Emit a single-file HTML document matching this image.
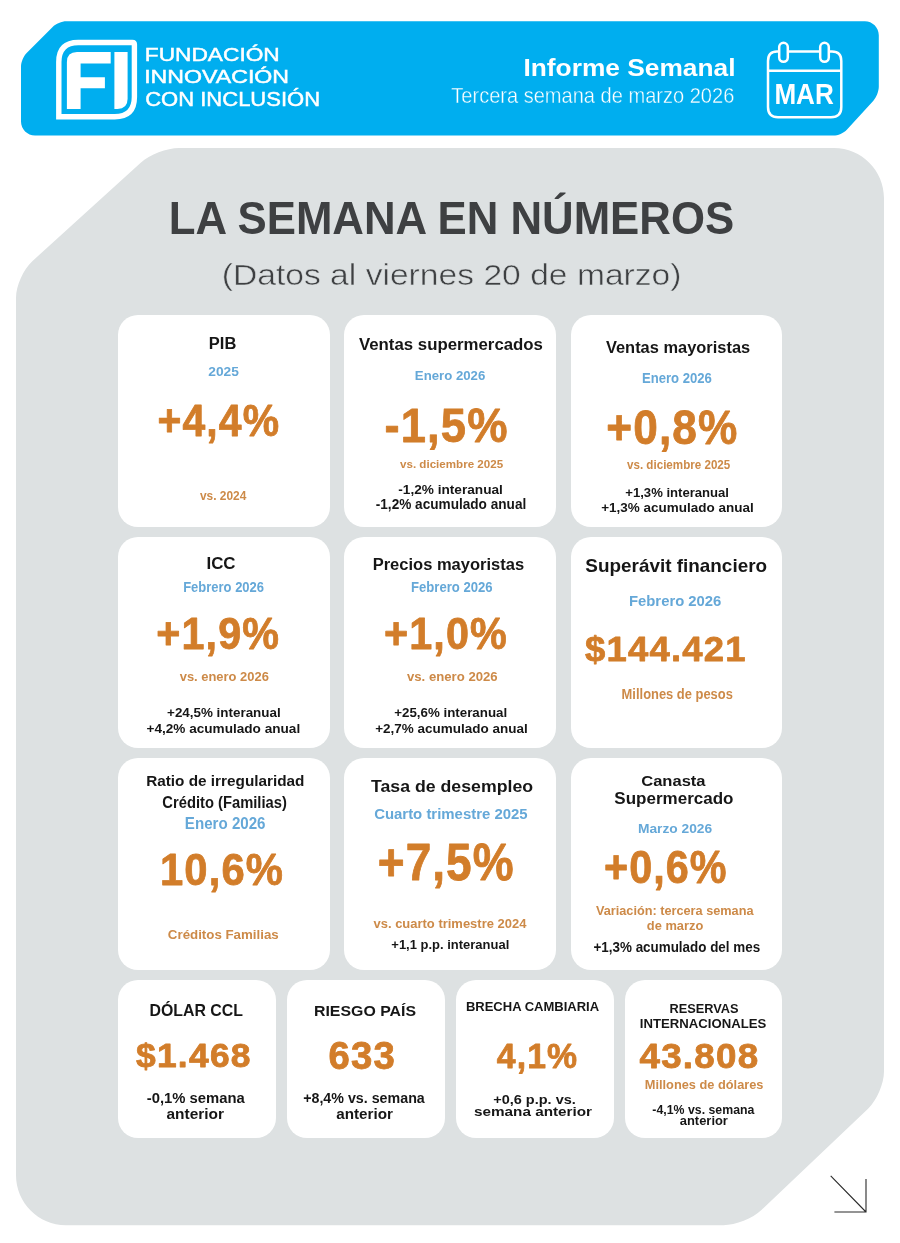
<!DOCTYPE html>
<html><head><meta charset="utf-8"><style>
html,body{margin:0;padding:0;background:#fff;}
body{width:900px;height:1243px;position:relative;overflow:hidden;font-family:"Liberation Sans",sans-serif;}
svg{position:absolute;left:0;top:0;will-change:transform;}
.card{position:absolute;background:#fff;border-radius:20px;}
</style></head><body>
<svg width="900" height="1243" viewBox="0 0 900 1243" style="z-index:0">
<path d="M21.00 66.60 C21.00 62.20 23.55 56.05 26.66 52.94 L52.64 26.96 C55.75 23.85 61.90 21.30 66.30 21.30 L864.80 21.30 C872.50 21.30 878.80 27.60 878.80 35.30 L878.80 86.80 C878.80 91.20 876.37 97.45 873.39 100.70 L846.81 129.70 C843.83 132.95 837.80 135.60 833.40 135.60 L35.00 135.60 C27.30 135.60 21.00 129.30 21.00 121.60 Z" fill="#00aeef"/>
<path d="M16.00 298.00 C16.00 285.90 23.33 269.34 32.28 261.21 L140.72 162.69 C149.67 154.56 166.90 147.90 179.00 147.90 L834.00 147.90 C861.50 147.90 884.00 170.40 884.00 197.90 L884.00 1071.50 C884.00 1083.60 876.83 1100.32 868.06 1108.66 L761.44 1210.04 C752.67 1218.38 735.60 1225.20 723.50 1225.20 L66.00 1225.20 C38.50 1225.20 16.00 1202.70 16.00 1175.20 Z" fill="#dde1e2"/>
</svg>
<div class="card" style="left:118.0px;top:315.0px;width:211.5px;height:211.5px"></div><div class="card" style="left:344.3px;top:315.0px;width:211.4px;height:211.5px"></div><div class="card" style="left:570.8px;top:315.0px;width:211.5px;height:211.5px"></div><div class="card" style="left:118.0px;top:536.5px;width:211.5px;height:211.5px"></div><div class="card" style="left:344.3px;top:536.5px;width:211.4px;height:211.5px"></div><div class="card" style="left:570.8px;top:536.5px;width:211.5px;height:211.5px"></div><div class="card" style="left:118.0px;top:758.0px;width:211.5px;height:211.5px"></div><div class="card" style="left:344.3px;top:758.0px;width:211.4px;height:211.5px"></div><div class="card" style="left:570.8px;top:758.0px;width:211.5px;height:211.5px"></div><div class="card" style="left:118.0px;top:979.7px;width:158.3px;height:158.3px"></div><div class="card" style="left:287.0px;top:979.7px;width:158.3px;height:158.3px"></div><div class="card" style="left:455.6px;top:979.7px;width:158.4px;height:158.3px"></div><div class="card" style="left:624.7px;top:979.7px;width:157.6px;height:158.3px"></div>
<svg width="900" height="1243" viewBox="0 0 900 1243" style="z-index:2" font-family="Liberation Sans, sans-serif">

<g fill="none" stroke="#fff" stroke-width="5.4">
  <path d="M58.8 116.7 V62 Q58.8 42.45 78.3 42.45 H132.4 Q134.4 42.45 134.4 44.45 V97 Q134.4 116.7 114.7 116.7 Z"/>
</g>
<g fill="#fff">
  <path d="M66.9 108.9 V62 Q66.9 51.9 77 51.9 H110.7 V63.5 H80.6 V77.2 H104.9 V88.3 H80.6 V108.9 Z"/>
  <path d="M114.4 51.9 H127.6 V98.8 Q127.6 108.9 117.5 108.9 H114.4 Z"/>
</g>


<g fill="none" stroke="#fff" stroke-width="2.5">
  <path d="M779.2 51.5 H777 Q768 51.5 768 61 V107 Q768 117.2 778 117.2 H831 Q841.3 117.2 841.3 107 V61 Q841.3 51.5 832 51.5 H828.8"/>
  <path d="M787.8 51.5 H820.2"/>
  <path d="M768 70.7 H841.3"/>
  <rect x="779.2" y="42.8" width="8.6" height="19" rx="4.3"/>
  <rect x="820.2" y="42.8" width="8.6" height="19" rx="4.3"/>
</g>

<g stroke="#2a2a2a" stroke-width="1.1" fill="none"><path d="M830.7 1175.9 L866 1212 M866 1179 V1212 H834.4"/></g>
<text transform="translate(144.757 61.100) scale(1.21507 1)" font-size="18.703" font-weight="normal" fill="#ffffff" stroke="#ffffff" stroke-width="0.45">FUNDACIÓN</text>
<text transform="translate(144.168 82.980) scale(1.31189 1)" font-size="17.648" font-weight="normal" fill="#ffffff" stroke="#ffffff" stroke-width="0.45">INNOVACIÓN</text>
<text transform="translate(145.182 105.560) scale(1.12487 1)" font-size="19.583" font-weight="normal" fill="#ffffff" stroke="#ffffff" stroke-width="0.45">CON INCLUSIÓN</text>
<text transform="translate(523.437 76.080) scale(1.06315 1)" font-size="24.758" font-weight="bold" fill="#ffffff" >Informe Semanal</text>
<text transform="translate(451.289 103.100) scale(0.91856 1)" font-size="21.836" font-weight="normal" fill="#ffffff" stroke="#00aeef" stroke-width="0.4">Tercera semana de marzo 2026</text>
<text transform="translate(774.392 104.000) scale(0.89388 1)" font-size="29.193" font-weight="bold" fill="#ffffff" >MAR</text>
<text transform="translate(168.742 234.000) scale(0.96124 1)" font-size="45.511" font-weight="bold" fill="#3e4042" >LA SEMANA EN NÚMEROS</text>
<text transform="translate(221.723 285.000) scale(1.12654 1)" font-size="29.867" font-weight="normal" fill="#3e4042" stroke="#dde1e2" stroke-width="0.5">(Datos al viernes 20 de marzo)</text>
<text transform="translate(208.869 348.500) scale(1.04510 1)" font-size="15.787" font-weight="bold" fill="#161616" >PIB</text>
<text transform="translate(208.269 375.800) scale(1.07723 1)" font-size="12.800" font-weight="bold" fill="#65a8d8" >2025</text>
<text transform="translate(157.411 435.680) scale(0.94007 1)" font-size="43.503" font-weight="bold" fill="#d27d2a" style="letter-spacing:1.2px" stroke="#d27d2a" stroke-width="0.8" stroke-linejoin="round">+4,4%</text>
<text transform="translate(199.920 500.000) scale(0.96492 1)" font-size="12.376" font-weight="bold" fill="#cd8a48" >vs. 2024</text>
<text transform="translate(358.980 349.980) scale(0.97516 1)" font-size="17.235" font-weight="bold" fill="#161616" >Ventas supermercados</text>
<text transform="translate(414.821 380.100) scale(1.03243 1)" font-size="12.800" font-weight="bold" fill="#65a8d8" >Enero 2026</text>
<text transform="translate(384.528 442.340) scale(0.95109 1)" font-size="47.648" font-weight="bold" fill="#d27d2a" style="letter-spacing:1.2px" stroke="#d27d2a" stroke-width="0.8" stroke-linejoin="round">-1,5%</text>
<text transform="translate(400.040 468.000) scale(0.98880 1)" font-size="11.729" font-weight="bold" fill="#cd8a48" >vs. diciembre 2025</text>
<text transform="translate(398.315 494.360) scale(1.08174 1)" font-size="12.617" font-weight="bold" fill="#161616" >-1,2% interanual</text>
<text transform="translate(375.774 509.300) scale(0.95213 1)" font-size="14.306" font-weight="bold" fill="#161616" >-1,2% acumulado anual</text>
<text transform="translate(605.900 352.700) scale(1.02280 1)" font-size="16.071" font-weight="bold" fill="#161616" >Ventas mayoristas</text>
<text transform="translate(641.981 383.300) scale(0.93091 1)" font-size="14.080" font-weight="bold" fill="#65a8d8" >Enero 2026</text>
<text transform="translate(606.320 443.820) scale(0.91240 1)" font-size="48.460" font-weight="bold" fill="#d27d2a" style="letter-spacing:1.2px" stroke="#d27d2a" stroke-width="0.8" stroke-linejoin="round">+0,8%</text>
<text transform="translate(627.000 469.300) scale(0.96154 1)" font-size="12.089" font-weight="bold" fill="#cd8a48" >vs. diciembre 2025</text>
<text transform="translate(625.290 497.000) scale(0.99548 1)" font-size="13.176" font-weight="bold" fill="#161616" >+1,3% interanual</text>
<text transform="translate(601.179 512.200) scale(1.02347 1)" font-size="13.176" font-weight="bold" fill="#161616" >+1,3% acumulado anual</text>
<text transform="translate(206.468 568.960) scale(1.03774 1)" font-size="16.278" font-weight="bold" fill="#161616" >ICC</text>
<text transform="translate(183.185 592.020) scale(0.93217 1)" font-size="13.940" font-weight="bold" fill="#65a8d8" >Febrero 2026</text>
<text transform="translate(156.304 648.840) scale(0.94714 1)" font-size="43.567" font-weight="bold" fill="#d27d2a" style="letter-spacing:1.2px" stroke="#d27d2a" stroke-width="0.8" stroke-linejoin="round">+1,9%</text>
<text transform="translate(179.700 681.100) scale(1.07064 1)" font-size="12.089" font-weight="bold" fill="#cd8a48" >vs. enero 2026</text>
<text transform="translate(167.081 717.200) scale(1.01815 1)" font-size="13.176" font-weight="bold" fill="#161616" >+24,5% interanual</text>
<text transform="translate(146.497 733.100) scale(1.03297 1)" font-size="13.176" font-weight="bold" fill="#161616" >+4,2% acumulado anual</text>
<text transform="translate(372.681 569.540) scale(1.01892 1)" font-size="16.223" font-weight="bold" fill="#161616" >Precios mayoristas</text>
<text transform="translate(410.979 591.700) scale(0.95182 1)" font-size="13.796" font-weight="bold" fill="#65a8d8" >Febrero 2026</text>
<text transform="translate(383.945 648.840) scale(0.94837 1)" font-size="43.567" font-weight="bold" fill="#d27d2a" style="letter-spacing:1.2px" stroke="#d27d2a" stroke-width="0.8" stroke-linejoin="round">+1,0%</text>
<text transform="translate(406.980 681.260) scale(1.08728 1)" font-size="12.120" font-weight="bold" fill="#cd8a48" >vs. enero 2026</text>
<text transform="translate(394.183 717.200) scale(1.01272 1)" font-size="13.176" font-weight="bold" fill="#161616" >+25,6% interanual</text>
<text transform="translate(375.220 733.100) scale(1.02390 1)" font-size="13.176" font-weight="bold" fill="#161616" >+2,7% acumulado anual</text>
<text transform="translate(585.305 572.300) scale(1.03081 1)" font-size="18.347" font-weight="bold" fill="#161616" >Superávit financiero</text>
<text transform="translate(628.997 606.100) scale(1.02873 1)" font-size="14.436" font-weight="bold" fill="#65a8d8" >Febrero 2026</text>
<text transform="translate(585.000 661.200) scale(1.01342 1)" font-size="35.963" font-weight="bold" fill="#d27d2a" style="letter-spacing:1.2px" stroke="#d27d2a" stroke-width="0.8" stroke-linejoin="round">$144.421</text>
<text transform="translate(621.595 698.600) scale(0.93518 1)" font-size="13.828" font-weight="bold" fill="#cd8a48" >Millones de pesos</text>
<text transform="translate(146.127 786.460) scale(0.98897 1)" font-size="15.513" font-weight="bold" fill="#161616" >Ratio de irregularidad</text>
<text transform="translate(162.339 807.500) scale(0.93447 1)" font-size="15.787" font-weight="bold" fill="#161616" >Crédito (Familias)</text>
<text transform="translate(184.855 829.000) scale(0.96690 1)" font-size="15.644" font-weight="bold" fill="#65a8d8" >Enero 2026</text>
<text transform="translate(160.006 885.020) scale(0.94577 1)" font-size="44.173" font-weight="bold" fill="#d27d2a" style="letter-spacing:1.2px" stroke="#d27d2a" stroke-width="0.8" stroke-linejoin="round">10,6%</text>
<text transform="translate(167.843 939.020) scale(1.06444 1)" font-size="12.518" font-weight="bold" fill="#cd8a48" >Créditos Familias</text>
<text transform="translate(371.000 791.500) scale(1.05528 1)" font-size="16.782" font-weight="bold" fill="#161616" >Tasa de desempleo</text>
<text transform="translate(374.133 818.800) scale(1.02935 1)" font-size="14.507" font-weight="bold" fill="#65a8d8" >Cuarto trimestre 2025</text>
<text transform="translate(377.717 879.800) scale(0.89413 1)" font-size="51.428" font-weight="bold" fill="#d27d2a" style="letter-spacing:1.2px" stroke="#d27d2a" stroke-width="0.8" stroke-linejoin="round">+7,5%</text>
<text transform="translate(373.500 928.300) scale(1.07413 1)" font-size="12.089" font-weight="bold" fill="#cd8a48" >vs. cuarto trimestre 2024</text>
<text transform="translate(391.294 948.800) scale(0.95885 1)" font-size="13.553" font-weight="bold" fill="#161616" >+1,1 p.p. interanual</text>
<text transform="translate(641.183 786.300) scale(1.09819 1)" font-size="15.076" font-weight="bold" fill="#161616" >Canasta</text>
<text transform="translate(614.334 804.000) scale(1.07850 1)" font-size="15.787" font-weight="bold" fill="#161616" >Supermercado</text>
<text transform="translate(637.939 833.000) scale(1.02001 1)" font-size="13.511" font-weight="bold" fill="#65a8d8" >Marzo 2026</text>
<text transform="translate(603.925 883.020) scale(0.91074 1)" font-size="45.380" font-weight="bold" fill="#d27d2a" style="letter-spacing:1.2px" stroke="#d27d2a" stroke-width="0.8" stroke-linejoin="round">+0,6%</text>
<text transform="translate(595.920 915.280) scale(0.93593 1)" font-size="13.596" font-weight="bold" fill="#cd8a48" >Variación: tercera semana</text>
<text transform="translate(646.798 929.800) scale(1.06238 1)" font-size="12.119" font-weight="bold" fill="#cd8a48" >de marzo</text>
<text transform="translate(593.502 952.000) scale(0.89191 1)" font-size="15.059" font-weight="bold" fill="#161616" >+1,3% acumulado del mes</text>
<text transform="translate(149.508 1015.900) scale(0.98767 1)" font-size="16.071" font-weight="bold" fill="#161616" >DÓLAR CCL</text>
<text transform="translate(136.000 1066.920) scale(1.04013 1)" font-size="34.050" font-weight="bold" fill="#d27d2a" style="letter-spacing:1.2px" stroke="#d27d2a" stroke-width="0.8" stroke-linejoin="round">$1.468</text>
<text transform="translate(146.779 1103.260) scale(0.98475 1)" font-size="15.059" font-weight="bold" fill="#161616" >-0,1% semana</text>
<text transform="translate(166.501 1119.180) scale(1.02530 1)" font-size="15.059" font-weight="bold" fill="#161616" >anterior</text>
<text transform="translate(314.002 1015.740) scale(1.03216 1)" font-size="15.389" font-weight="bold" fill="#161616" >RIESGO PAÍS</text>
<text transform="translate(328.425 1069.120) scale(1.00682 1)" font-size="38.058" font-weight="bold" fill="#d27d2a" style="letter-spacing:1.2px" stroke="#d27d2a" stroke-width="0.8" stroke-linejoin="round">633</text>
<text transform="translate(303.155 1103.100) scale(0.94668 1)" font-size="15.059" font-weight="bold" fill="#161616" >+8,4% vs. semana</text>
<text transform="translate(336.262 1119.100) scale(1.01227 1)" font-size="15.059" font-weight="bold" fill="#161616" >anterior</text>
<text transform="translate(465.886 1011.200) scale(1.02901 1)" font-size="12.658" font-weight="bold" fill="#161616" >BRECHA CAMBIARIA</text>
<text transform="translate(496.740 1067.680) scale(0.94797 1)" font-size="35.621" font-weight="bold" fill="#d27d2a" style="letter-spacing:1.2px" stroke="#d27d2a" stroke-width="0.8" stroke-linejoin="round">4,1%</text>
<text transform="translate(493.247 1103.700) scale(1.14971 1)" font-size="12.612" font-weight="bold" fill="#161616" >+0,6 p.p. vs.</text>
<text transform="translate(474.006 1116.000) scale(1.13852 1)" font-size="13.422" font-weight="bold" fill="#161616" >semana anterior</text>
<text transform="translate(669.501 1012.500) scale(1.00975 1)" font-size="12.658" font-weight="bold" fill="#161616" >RESERVAS</text>
<text transform="translate(639.777 1027.600) scale(1.04038 1)" font-size="12.658" font-weight="bold" fill="#161616" >INTERNACIONALES</text>
<text transform="translate(639.480 1067.680) scale(1.03279 1)" font-size="35.621" font-weight="bold" fill="#d27d2a" style="letter-spacing:1.2px" stroke="#d27d2a" stroke-width="0.8" stroke-linejoin="round">43.808</text>
<text transform="translate(644.800 1088.700) scale(1.01064 1)" font-size="12.658" font-weight="bold" fill="#cd8a48" >Millones de dólares</text>
<text transform="translate(652.358 1114.000) scale(0.93473 1)" font-size="13.176" font-weight="bold" fill="#161616" >-4,1% vs. semana</text>
<text transform="translate(679.779 1124.500) scale(0.98109 1)" font-size="13.176" font-weight="bold" fill="#161616" >anterior</text>
</svg>
</body></html>
